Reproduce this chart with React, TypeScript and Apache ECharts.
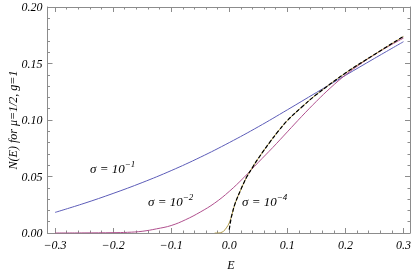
import React, { useEffect, useRef } from "react";
import * as echarts from "echarts";

// sigma = 10^-1 (blue)
const blueE = [-0.3, -0.25, -0.2, -0.15, -0.1, -0.05, 0, 0.05, 0.1, 0.15, 0.2, 0.25, 0.3];
const blueN = [0.0182, 0.0262, 0.035, 0.0446, 0.0552, 0.067, 0.08, 0.094, 0.109, 0.1243, 0.1395, 0.1545, 0.1693];

// sigma = 10^-2 (magenta)
const pinkE = [-0.3, -0.25, -0.2, -0.175, -0.15, -0.125, -0.1, -0.075, -0.05, -0.025, 0, 0.025, 0.05, 0.075, 0.1, 0.125, 0.15, 0.175, 0.2, 0.225, 0.25, 0.275, 0.3];
const pinkN = [0, 0.0001, 0.0003, 0.0006, 0.0015, 0.0037, 0.0066, 0.0118, 0.0185, 0.0265, 0.0368, 0.049, 0.0625, 0.0757, 0.0895, 0.1033, 0.1165, 0.1288, 0.1398, 0.1493, 0.1578, 0.1655, 0.1725];

// sigma = 10^-4 (gold)
const goldE = [-0.025, -0.02, -0.015, -0.01, -0.005, 0, 0.005, 0.01, 0.02, 0.025, 0.03, 0.04, 0.05, 0.07, 0.085, 0.1, 0.125, 0.15, 0.2, 0.25, 0.3];
const goldN = [0, 0, 0.0003, 0.0015, 0.0045, 0.009, 0.017, 0.026, 0.0385, 0.0442, 0.0495, 0.058, 0.066, 0.0805, 0.0905, 0.0995, 0.1115, 0.1225, 0.1415, 0.158, 0.174];

// limiting curve (black dashed)
const blackE = [0, 0.0025, 0.005, 0.01, 0.02, 0.025, 0.03, 0.04, 0.05, 0.07, 0.085, 0.1, 0.125, 0.15, 0.2, 0.25, 0.3];
const blackN = [0.003, 0.011, 0.017, 0.026, 0.0385, 0.0442, 0.0495, 0.058, 0.066, 0.0805, 0.0905, 0.0995, 0.1115, 0.1225, 0.1415, 0.158, 0.174];

const xTickLabels = ["−0.3", "−0.2", "−0.1", "0.0", "0.1", "0.2", "0.3"];
const yTickLabels = ["0.00", "0.05", "0.10", "0.15", "0.20"];

const sigmaLabels = [
  { base: "σ = 10", exp: "−1", x: 90, y: 168 },
  { base: "σ = 10", exp: "−2", x: 148, y: 201 },
  { base: "σ = 10", exp: "−4", x: 242, y: 201 },
];

const zip = (a: number[], b: number[]) => a.map((v, i) => [v, b[i]]);

export default function App() {
  const ref = useRef<HTMLDivElement>(null);
  useEffect(() => {
    const chart = echarts.init(ref.current!, null, { renderer: "svg" });
    const font = "Liberation Serif";
    const frame = "#8c8c8c";
    const tickStyle = { color: frame, width: 1 };
    const labelStyle = { fontFamily: font, fontStyle: "italic", fontSize: 12, color: "#000" };
    const xFmt = (v: number) => {
      const i = Math.round((v + 0.3) / 0.1);
      return Math.abs(v - (-0.3 + i * 0.1)) < 1e-6 && xTickLabels[i] !== undefined ? xTickLabels[i] : "";
    };
    const yFmt = (v: number) => {
      const i = Math.round(v / 0.05);
      return yTickLabels[i] ?? "";
    };
    const xTickAxis = (pos: string, labels: boolean) => ({
      gridIndex: 0,
      type: "value",
      min: -0.3,
      max: 0.3,
      interval: 0.1,
      position: pos,
      axisLine: { show: false, onZero: false },
      axisTick: { show: true, inside: true, length: 5, lineStyle: tickStyle },
      minorTick: { show: true, splitNumber: 5, length: 2.5, lineStyle: tickStyle },
      splitLine: { show: false },
      axisLabel: labels ? { show: true, margin: 6, formatter: xFmt, ...labelStyle } : { show: false },
    });
    const frameX = (pos: string) => ({
      gridIndex: 1,
      type: "value",
      min: 0,
      max: 1,
      position: pos,
      axisLine: { show: true, onZero: false, lineStyle: { color: frame, width: 1 } },
      axisTick: { show: false },
      axisLabel: { show: false },
      splitLine: { show: false },
    });
    const frameY = (pos: string, labels: boolean) => ({
      gridIndex: 1,
      type: "value",
      min: 0,
      max: 0.2,
      interval: 0.05,
      position: pos,
      axisLine: { show: true, onZero: false, lineStyle: { color: frame, width: 1 } },
      axisTick: { show: true, inside: true, length: 5, lineStyle: tickStyle },
      minorTick: { show: true, splitNumber: 5, length: 2.5, lineStyle: tickStyle },
      splitLine: { show: false },
      axisLabel: labels ? { show: true, margin: 5, formatter: yFmt, ...labelStyle } : { show: false },
    });
    const line = (data: number[][], color: string, extra: any = {}) => ({
      type: "line",
      xAxisIndex: 0,
      yAxisIndex: 0,
      data,
      showSymbol: false,
      symbol: "none",
      smooth: 0.4,
      lineStyle: { color, width: 1, ...extra },
      silent: true,
    });
    const graphics: any[] = [
      {
        type: "text",
        x: 13,
        y: 120,
        rotation: Math.PI / 2,
        style: {
          text: "N(E) for μ=1/2, g=1",
          fontFamily: font,
          fontStyle: "italic",
          fontSize: 12,
          fill: "#000",
          align: "center",
          verticalAlign: "middle",
        },
      },
      {
        type: "text",
        x: 231,
        y: 265,
        style: {
          text: "E",
          fontFamily: font,
          fontStyle: "italic",
          fontSize: 12,
          fill: "#000",
          align: "center",
          verticalAlign: "middle",
        },
      },
    ];
    sigmaLabels.forEach((s) => {
      graphics.push({
        type: "text",
        x: s.x,
        y: s.y,
        style: {
          text: `{a|${s.base}}{b|${s.exp}}`,
          align: "left",
          verticalAlign: "middle",
          fill: "#000",
          rich: {
            a: { fontFamily: font, fontStyle: "italic", fontSize: 13, lineHeight: 17, fill: "#000" },
            b: { fontFamily: font, fontStyle: "italic", fontSize: 9, lineHeight: 17, verticalAlign: "top", fill: "#000" },
          },
        },
      });
    });
    chart.setOption({
      animation: false,
      grid: [
        { left: 55, right: 7.5, top: 7, bottom: 41 },
        { left: 47.5, right: 4, top: 7, bottom: 41 },
      ],
      xAxis: [xTickAxis("bottom", true), xTickAxis("top", false), frameX("bottom"), frameX("top")],
      yAxis: [
        { gridIndex: 0, type: "value", min: 0, max: 0.2, show: false },
        frameY("left", true),
        frameY("right", false),
      ],
      series: [
        line(zip(blueE, blueN), "#5c5cb8"),
        line(zip(pinkE, pinkN), "#b0508e"),
        line(zip(goldE, goldN), "#b09a48"),
        line(zip(blackE, blackN), "#000", { type: [4, 2], width: 1.2 }),
      ],
      graphic: graphics,
    });
    return () => chart.dispose();
  }, []);
  return <div ref={ref} style={{ position: "fixed", left: 0, top: 0, width: 414, height: 274 }} />;
}
